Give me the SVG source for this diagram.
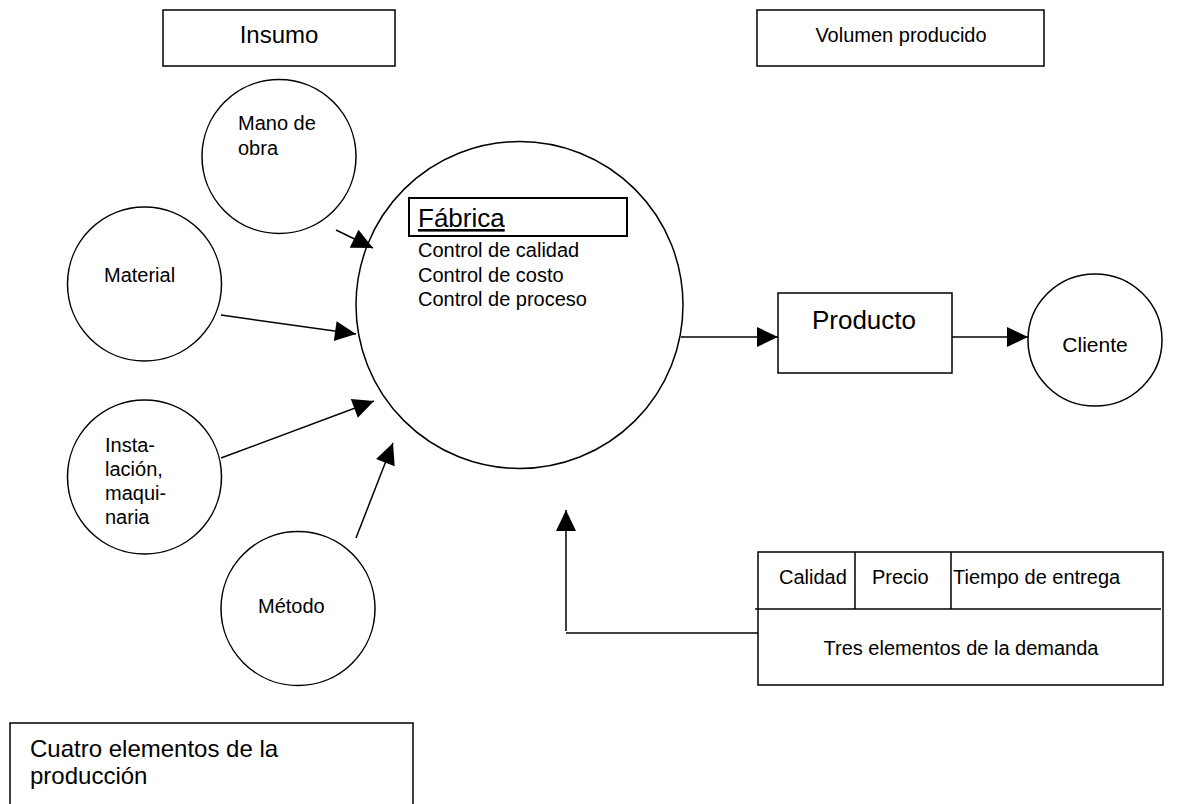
<svg xmlns="http://www.w3.org/2000/svg" width="1183" height="804" viewBox="0 0 1183 804">
  <style>
    .shape { fill: #fff; stroke: #000; stroke-width: 1.5; }
    .box2 { fill: none; stroke: #000; stroke-width: 2; }
    .line { fill: none; stroke: #000; stroke-width: 1.5; }
    .conn { fill: none; stroke: #000; stroke-width: 1.5; marker-end: url(#head); }
    text { font-family: "Liberation Sans", Arial, Helvetica, sans-serif; fill: #000; }
    .t20 { font-size: 20px; }
    .t21 { font-size: 21px; }
    .t24 { font-size: 24px; }
    .t26 { font-size: 26px; }
    .mid { text-anchor: middle; }
  </style>
  <defs>
    <marker id="head" markerUnits="userSpaceOnUse" markerWidth="21" markerHeight="20" refX="21" refY="10" orient="auto" overflow="visible">
      <path d="M0,0 L21,10 L0,20 Z" fill="#000"/>
    </marker>
  </defs>

  <rect width="1183" height="804" fill="#fff"/>

  <!-- header labels -->
  <g id="insumo">
    <rect class="shape" x="163" y="10" width="232" height="56"/>
    <text class="t24 mid" x="279" y="43">Insumo</text>
  </g>
  <g id="volumen">
    <rect class="shape" x="757" y="10" width="287" height="56"/>
    <text class="t20 mid" x="901" y="42">Volumen producido</text>
  </g>

  <!-- inputs -->
  <g id="mano-de-obra">
    <circle class="shape" cx="279" cy="156.5" r="77"/>
    <text class="t20" x="238" y="130">Mano de</text>
    <text class="t20" x="238" y="155">obra</text>
  </g>
  <g id="material">
    <circle class="shape" cx="144.5" cy="284" r="77"/>
    <text class="t20" x="104" y="282">Material</text>
  </g>
  <g id="instalacion">
    <circle class="shape" cx="144.5" cy="477" r="77"/>
    <text class="t20" x="105" y="452">Insta-</text>
    <text class="t20" x="105" y="476">lación,</text>
    <text class="t20" x="105" y="500">maqui-</text>
    <text class="t20" x="105" y="524">naria</text>
  </g>
  <g id="metodo">
    <circle class="shape" cx="298" cy="608.5" r="77"/>
    <text class="t20" x="258" y="613">Método</text>
  </g>

  <!-- factory -->
  <g id="fabrica">
    <circle class="shape" cx="519.5" cy="305" r="163.5"/>
    <rect class="box2" x="409" y="198" width="218" height="38"/>
    <text class="t26" x="418" y="227" text-decoration="underline">Fábrica</text>
    <text class="t20" x="418" y="257">Control de calidad</text>
    <text class="t20" x="418" y="282">Control de costo</text>
    <text class="t20" x="418" y="306">Control de proceso</text>
  </g>

  <!-- output -->
  <g id="producto">
    <rect class="shape" x="778" y="293" width="174" height="80"/>
    <text class="t26 mid" x="864" y="329">Producto</text>
  </g>
  <g id="cliente">
    <ellipse class="shape" cx="1095" cy="340" rx="67" ry="66"/>
    <text class="t21 mid" x="1095" y="352">Cliente</text>
  </g>

  <!-- demand table -->
  <g id="demanda">
    <rect class="shape" x="758" y="552" width="405" height="133"/>
    <line class="line" x1="755" y1="609" x2="1161" y2="609"/>
    <line class="line" x1="855" y1="552" x2="855" y2="609"/>
    <line class="line" x1="951" y1="552" x2="951" y2="609"/>
    <text class="t20" x="779" y="584">Calidad</text>
    <text class="t20" x="872" y="584">Precio</text>
    <text class="t20" x="953" y="584">Tiempo de entrega</text>
    <text class="t20 mid" x="961" y="655">Tres elementos de la demanda</text>
  </g>

  <!-- caption box -->
  <g id="cuatro-elementos">
    <rect class="shape" x="10" y="723" width="403" height="100"/>
    <text class="t24" x="30" y="757">Cuatro elementos de la</text>
    <text class="t24" x="30" y="784">producción</text>
  </g>

  <!-- connectors -->
  <g id="connectors">
    <line class="conn" x1="336" y1="230" x2="373" y2="248"/>
    <line class="conn" x1="221" y1="315" x2="356" y2="334"/>
    <line class="conn" x1="221" y1="458" x2="374" y2="401"/>
    <line class="conn" x1="356" y1="538" x2="393" y2="443"/>
    <line class="conn" x1="681" y1="337" x2="778" y2="337"/>
    <line class="conn" x1="952" y1="337" x2="1028" y2="337"/>
    <polyline class="line" points="758,633 566,633"/>
    <line class="conn" x1="566" y1="631" x2="566" y2="510"/>
  </g>
</svg>
